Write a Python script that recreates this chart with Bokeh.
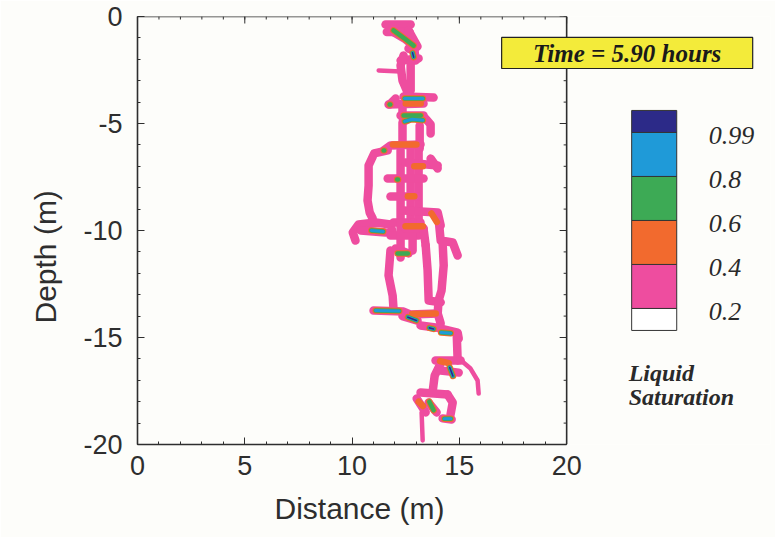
import numpy as np
from bokeh.plotting import figure
from bokeh.models import Range1d, FixedTicker, Title
from bokeh.core.properties import value
from bokeh.embed import file_html
from bokeh.resources import INLINE

# ---------------- data ----------------
x_ticks = [0, 5, 10, 15, 20]
y_ticks = [-20, -15, -10, -5, 0]
x_minor = list(range(0, 21))
y_minor = list(range(-20, 1))
x_title = "Distance (m)"
y_title = "Depth (m)"

levels = [0.2, 0.4, 0.6, 0.8, 0.99]
level_labels = ["0.2", "0.4", "0.6", "0.8", "0.99"]
# colour below 0.2, then between successive levels, then above 0.99
band_colors = ["#ffffff", "#EE4D9F", "#F26A2E", "#3DAA55", "#1F9AD8", "#2C2A88"]

time_text = "Time = 5.90 hours"
legend_title = ["Liquid", "Saturation"]

# wetted fingers (saturation 0.2 - 0.4), x = distance (m), y = depth (m)
finger_x = [
    [11.56, 12.73], [11.62, 12.68], [12.63, 13.05], [11.79, 12.44, 12.96],
    [12.63, 12.91, 12.96], [12.26, 13.10], [12.40, 12.26, 12.35, 12.59], [12.73, 12.73],
    [12.40, 13.80], [11.70, 13.33], [12.03, 11.75], [12.35, 12.35], [12.26, 13.33],
    [12.35, 12.35, 12.73, 13.43, 13.66, 13.66], [13.15, 13.15], [11.47, 11.79, 13.19],
    [11.66, 11.03, 10.77, 10.77, 10.72, 10.82, 10.96],
    [10.16, 10.03, 10.30, 11.10, 11.79, 11.89], [10.40, 11.56],
    [12.73, 12.73], [13.10, 13.10], [12.26, 12.26], [12.49, 13.99], [13.66, 13.99],
    [11.66, 13.33], [11.79, 13.05], [12.40, 13.99, 14.13],
    [11.93, 13.19], [11.79, 13.10], [12.03, 12.63], [12.26, 12.26], [12.82, 12.82],
    [12.49, 13.33], [13.33, 13.43],
    [14.03, 14.13, 14.69, 14.92], [14.22, 14.27, 14.17, 14.03],
    [13.43, 13.52, 13.57, 14.13], [11.79, 11.70, 11.89, 11.93], [14.03, 13.99],
    [11.00, 12.40, 12.73, 13.99], [12.35, 13.05],
    [13.19, 13.89, 14.92, 14.97], [13.99, 14.13], [14.88, 14.92],
    [13.89, 15.06], [14.13, 14.97], [14.13, 13.85, 13.75],
    [13.19, 14.45], [13.01, 13.43], [14.45, 14.69, 14.59], [13.57, 13.94], [14.22, 14.64],
]
finger_y = [
    [-0.37, -0.37], [-0.72, -0.72], [-0.65, -1.40], [-0.65, -1.03, -1.45],
    [-1.50, -1.59, -2.06], [-2.06, -1.96], [-1.82, -2.29, -2.99, -3.55], [-2.15, -3.46],
    [-3.74, -3.79], [-4.11, -4.07], [-3.83, -4.11], [-4.16, -4.72], [-4.63, -4.63],
    [-5.89, -4.95, -4.72, -4.77, -5.05, -5.47], [-5.09, -6.17], [-6.26, -6.03, -5.98],
    [-6.26, -6.40, -6.96, -7.90, -8.60, -9.16, -9.44],
    [-10.47, -10.09, -9.72, -9.63, -9.72, -10.09], [-10.00, -10.09],
    [-6.17, -9.77], [-6.17, -9.77], [-6.26, -9.63], [-6.82, -6.96], [-6.64, -7.10],
    [-7.57, -7.57], [-8.41, -8.41], [-9.07, -9.16, -9.77],
    [-9.63, -9.63], [-10.23, -10.23], [-10.84, -11.07], [-9.63, -11.26], [-9.63, -10.93],
    [-9.91, -9.91], [-9.91, -10.70],
    [-9.44, -10.47, -10.56, -11.17], [-10.56, -11.63, -12.80, -13.27],
    [-10.70, -11.87, -13.27, -13.36], [-10.93, -12.10, -13.04, -13.64], [-13.27, -13.88],
    [-13.74, -13.79, -13.93, -13.88], [-14.00, -14.21],
    [-14.44, -14.53, -14.77, -15.05], [-13.88, -14.35], [-14.91, -16.07],
    [-16.07, -16.07], [-16.54, -16.64], [-16.21, -16.78, -17.57],
    [-17.57, -17.66], [-17.85, -18.50], [-17.66, -18.04, -18.60], [-18.04, -18.50], [-18.78, -18.83],
]
# thin fingers
thin_x = [[11.24, 12.26], [14.97, 15.52, 15.85, 15.90], [13.24, 13.29]]
thin_y = [[-2.52, -2.57], [-15.98, -16.45, -17.01, -17.62], [-18.50, -19.81]]

# wetter patches inside the fingers, with their peak saturation
wet_x = [
    [11.93, 12.44, 12.87], [12.82, 12.87], [12.45, 13.30], [12.5, 13.2], [11.75, 11.78],
    [12.4, 13.2], [12.45, 12.8, 13.3], [11.9, 13.0], [11.47, 11.50], [12.10, 12.14],
    [12.9, 13.3], [12.6, 12.9], [13.7, 13.95], [10.90, 11.45], [12.49, 13.3],
    [12.12, 12.6], [11.10, 12.20], [12.6, 13.0], [12.8, 13.9], [13.6, 13.8],
    [14.15, 14.6], [14.55, 14.7], [14.1, 14.5], [13.6, 13.8], [14.3, 14.6], [13.1, 13.3],
]
wet_y = [
    [-0.65, -1.03, -1.36], [-1.70, -1.90], [-3.83, -3.83], [-4.07, -4.07], [-4.11, -4.11],
    [-4.63, -4.63], [-4.90, -4.80, -4.85], [-5.98, -5.98], [-6.26, -6.26], [-7.62, -7.62],
    [-7.0, -7.0], [-8.4, -8.4], [-9.2, -9.6], [-10.0, -10.05], [-9.8, -9.8],
    [-11.07, -11.07], [-13.74, -13.76], [-14.05, -14.2], [-13.9, -13.88], [-14.55, -14.6],
    [-14.77, -14.8], [-16.4, -16.8], [-16.1, -16.2], [-18.0, -18.4], [-18.8, -18.8], [-18.0, -18.2],
]
wet_peak = [0.7, 0.99, 0.85, 0.5, 0.7, 0.7, 0.85, 0.5, 0.7, 0.7,
            0.5, 0.5, 0.5, 0.85, 0.5, 0.7, 0.85, 0.99, 0.5, 0.99,
            0.85, 0.99, 0.5, 0.7, 0.85, 0.5]

# ---------------- figure ----------------
PAPER = "#fdfdfa"
INK = "#2e2e2e"
p = figure(width=775, height=537, x_range=Range1d(0, 29.5), y_range=Range1d(-20, 0),
           output_backend="svg", toolbar_location=None,
           min_border_left=137, min_border_right=5, min_border_top=16, min_border_bottom=93)
p.outline_line_color = None
p.grid.visible = False
p.background_fill_color = PAPER
p.border_fill_color = PAPER

xax = p.below[0]
yax = p.left[0]
xax.bounds = (x_ticks[0], x_ticks[-1])
xax.ticker = FixedTicker(ticks=x_ticks, minor_ticks=x_minor)
yax.ticker = FixedTicker(ticks=y_ticks, minor_ticks=y_minor)
xax.major_label_overrides = {t: str(t) for t in x_ticks}
yax.major_label_overrides = {t: str(t) for t in y_ticks}
for ax in [xax, yax]:
    ax.axis_line_color = INK
    ax.axis_line_width = 1.6
    ax.major_tick_line_color = INK
    ax.minor_tick_line_color = INK
    ax.major_tick_in = 7
    ax.major_tick_out = 0
    ax.minor_tick_in = 3
    ax.minor_tick_out = 0
    ax.major_label_text_font = "Liberation Sans"
    ax.major_label_text_font_size = "27px"
    ax.major_label_text_color = INK
xax.major_label_standoff = 11
yax.major_label_standoff = 15

# axis titles, placed as in the original (centred on the 0-20 m extent)
p.add_layout(Title(text=x_title, align="left", offset=137, standoff=24, vertical_align="bottom",
                   text_font="Liberation Sans", text_font_size="30px",
                   text_font_style="normal", text_color=INK), "below")
p.add_layout(Title(text=y_title, align="left", offset=121, standoff=34, vertical_align="top",
                   text_font="Liberation Sans", text_font_size="30px",
                   text_font_style="normal", text_color=INK), "left")

# plume
pink = band_colors[1]
p.multi_line(finger_x, finger_y, line_color=pink, line_width=8.5, line_cap="round", line_join="round")
p.multi_line(thin_x, thin_y, line_color=pink, line_width=4.5, line_cap="round", line_join="round")
layer_width = {1: 6.5, 2: 4.5, 3: 3, 4: 1.6}
for k in range(1, len(levels)):
    sel = [i for i, s in enumerate(wet_peak) if s >= levels[k]]
    if not sel:
        continue
    p.multi_line([wet_x[i] for i in sel], [wet_y[i] for i in sel],
                 line_color=band_colors[k + 1], line_width=layer_width[k],
                 line_cap="round", line_join="round")

# top and right borders with inward ticks
x0, x_end = x_ticks[0], x_ticks[-1]
y_bot, y_top = y_ticks[0], y_ticks[-1]
p.segment(x0=[x0, x_end], y0=[y_top, y_bot], x1=[x_end, x_end], y1=[y_top, y_top],
          line_color=INK, line_width=1.6)
p.ray(x=[x_end] * len(y_ticks), y=y_ticks, length=7, length_units="screen", angle=np.pi,
      line_color=INK, line_width=1)
p.ray(x=[x_end] * len(y_minor), y=y_minor, length=3, length_units="screen", angle=np.pi,
      line_color=INK, line_width=1)
p.ray(x=x_ticks, y=[y_top] * len(x_ticks), length=7, length_units="screen", angle=-np.pi / 2,
      line_color=INK, line_width=1)
p.ray(x=x_minor, y=[y_top] * len(x_minor), length=3, length_units="screen", angle=-np.pi / 2,
      line_color=INK, line_width=1)

# time box
p.quad(left=[16.97], right=[28.67], bottom=[-2.43], top=[-0.98],
       fill_color="#F3EB3A", line_color="#222222", line_width=1.2)
p.text(x=[22.82], y=[-1.72], text=[time_text], text_align="center", text_baseline="middle",
       text_font=value("Liberation Serif"), text_font_style="bold italic",
       text_font_size="25px", text_color="#1a1a1a")

# colour legend
bar_left, bar_right = 23.03, 25.13
bar_bottom, band_h = -14.67, 2.056
bounds = [bar_bottom + (k + 0.5) * band_h for k in range(len(levels))]
bottoms = [bar_bottom] + bounds
tops = bounds + [bar_bottom + len(levels) * band_h]
p.quad(left=[bar_left] * len(bottoms), right=[bar_right] * len(bottoms),
       bottom=bottoms, top=tops, fill_color=band_colors, line_color="#333333", line_width=1)
p.text(x=[26.62] * len(levels), y=[b - 0.14 for b in bounds], text=level_labels,
       text_align="left", text_baseline="middle", text_font=value("Liberation Serif"),
       text_font_style="italic", text_font_size="26px", text_color="#2a2a2a")
p.text(x=[22.89, 22.89], y=[-16.64, -17.76], text=legend_title,
       text_align="left", text_baseline="middle", text_font=value("Liberation Serif"),
       text_font_style="bold italic", text_font_size="24px", text_color="#2a2a2a")

open("out.html", "w").write(file_html(p, INLINE))
